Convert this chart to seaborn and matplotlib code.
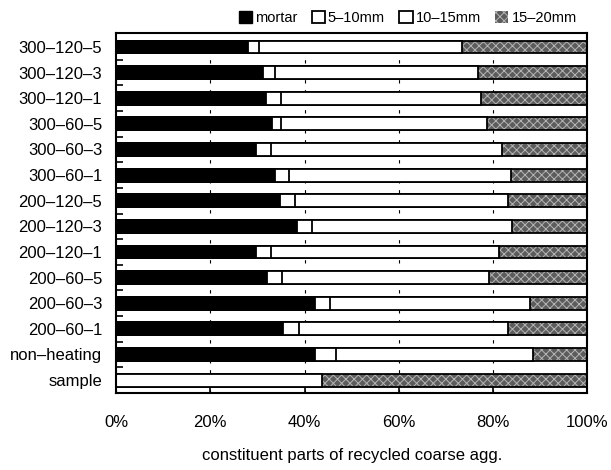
import matplotlib
matplotlib.use("Agg")
import matplotlib.pyplot as plt
import seaborn as sns
import numpy as np
import pandas as pd
from matplotlib.patches import Patch

categories = ["300–120–5", "300–120–3", "300–120–1", "300–60–5", "300–60–3", "300–60–1",
              "200–120–5", "200–120–3", "200–120–1", "200–60–5", "200–60–3", "200–60–1",
              "non–heating", "sample"]
mortar = [27.9, 31.1, 31.9, 33.2, 29.8, 33.8, 34.9, 38.5, 29.8, 32.1, 42.3, 35.5, 42.3, 0.0]
mm5_10 = [2.5, 2.7, 3.2, 1.9, 3.0, 3.0, 3.0, 3.0, 3.0, 3.2, 3.2, 3.4, 4.3, 0.0]
mm10_15 = [43.0, 43.0, 42.3, 43.6, 49.1, 47.0, 45.3, 42.5, 48.5, 43.8, 42.4, 44.3, 41.9, 43.8]
mm15_20 = [26.6, 23.2, 22.6, 21.3, 18.1, 16.2, 16.8, 16.0, 18.7, 20.9, 12.1, 16.8, 11.5, 56.2]
legend_labels = ["mortar", "5–10mm", "10–15mm", "15–20mm"]
xticks = [0, 20, 40, 60, 80, 100]
xticklabels = ["0%", "20%", "40%", "60%", "80%", "100%"]

df = pd.DataFrame({"cat": categories, "mortar": mortar, "a": mm5_10, "b": mm10_15, "c": mm15_20})
df["c1"] = df["mortar"]
df["c2"] = df["c1"] + df["a"]
df["c3"] = df["c2"] + df["b"]
df["c4"] = df["c3"] + df["c"]

sns.set_style("white")
plt.rcParams["font.family"] = ["Liberation Sans", "DejaVu Sans"]
plt.rcParams["hatch.linewidth"] = 0.7
plt.rcParams["text.color"] = "black"
plt.rcParams["axes.labelcolor"] = "black"
plt.rcParams["xtick.color"] = "black"
plt.rcParams["ytick.color"] = "black"

fig = plt.figure(figsize=(6.11, 4.70), dpi=100)
ax = fig.add_axes([0.190, 0.164, 0.771, 0.766])

bw = 0.5
gray_face = "#5c5c5c"
gray_hatch = "#b4b4b4"
# 15-20 (gray hatched)
sns.barplot(data=df, x="c4", y="cat", orient="h", color=gray_face, width=bw, ax=ax,
            edgecolor=gray_hatch, linewidth=0, hatch="xxxx", saturation=1)
sns.barplot(data=df, x="c4", y="cat", orient="h", width=bw, ax=ax, fill=False,
            edgecolor="black", linewidth=1.3)
# 10-15 white
sns.barplot(data=df, x="c3", y="cat", orient="h", color="white", width=bw, ax=ax,
            edgecolor="black", linewidth=1.3, saturation=1)
# 5-10 white
sns.barplot(data=df, x="c2", y="cat", orient="h", color="white", width=bw, ax=ax,
            edgecolor="black", linewidth=1.3, saturation=1)
# mortar black
sns.barplot(data=df, x="c1", y="cat", orient="h", color="black", width=bw, ax=ax,
            edgecolor="black", linewidth=1.3, saturation=1)

ax.set_xlim(0, 100)
ax.set_ylim(13.5, -0.55)
ax.set_xticks(xticks)
ax.set_xticklabels(xticklabels, fontsize=12)
ax.tick_params(axis="x", direction="in", length=5, width=1.2, pad=16, bottom=True)
ax.tick_params(axis="y", length=0, pad=10, labelsize=12)
ax.set_yticks(np.arange(0.5, 13.5, 1), minor=True)
ax.tick_params(axis="y", which="minor", direction="in", length=5, width=1.2, left=True)
ax.set_ylabel("")
ax.set_xlabel("constituent parts of recycled coarse agg.", fontsize=12, labelpad=13)

ax.set_axisbelow(True)
ax.grid(axis="x", color="black", linestyle=(0, (3, 6)), linewidth=0.8)
ax.grid(axis="y", visible=False)
for s in ax.spines.values():
    s.set_visible(True)
    s.set_color("black")
    s.set_linewidth(1.5)

handles = [
    Patch(facecolor="black", edgecolor="black", label=legend_labels[0]),
    Patch(facecolor="white", edgecolor="black", linewidth=1.3, label=legend_labels[1]),
    Patch(facecolor="white", edgecolor="black", linewidth=1.3, label=legend_labels[2]),
    Patch(facecolor=gray_face, edgecolor=gray_hatch, hatch="xxxx", linewidth=0, label=legend_labels[3]),
]
leg = ax.legend(handles=handles, loc="lower right", bbox_to_anchor=(0.99, 1.005), ncol=4,
                frameon=False, fontsize=10.5, handlelength=0.9, handleheight=0.9,
                handletextpad=0.2, columnspacing=1.0, borderaxespad=0.2, borderpad=0.2)

fig.savefig("out.png", dpi=100)
